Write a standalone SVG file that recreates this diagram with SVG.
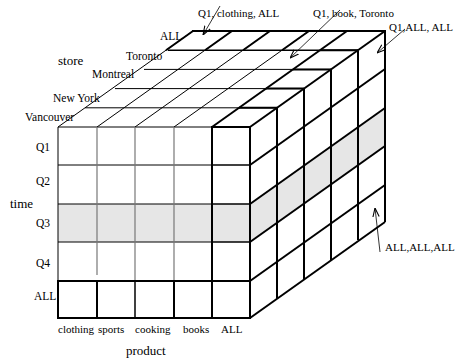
<svg xmlns="http://www.w3.org/2000/svg" width="457" height="362" viewBox="0 0 457 362">
<style>
.t{font-family:"Liberation Serif","Times New Roman",serif;fill:#000}
.s11{font-size:11px}
.s12{font-size:11.5px}
.s13{font-size:13px}
.thin{stroke:#000;stroke-width:1;fill:none}
.gray{stroke:#777;stroke-width:1.2;fill:none}
.med{stroke:#000;stroke-width:1.5;fill:none}
.thick{stroke:#000;stroke-width:2;fill:none}
.band{fill:#e6e6e6;stroke:none}
.arr{stroke:#000;stroke-width:0.8;fill:none;marker-end:url(#ah)}
</style>
<defs>
<marker id="ah" viewBox="0 0 10 10" refX="10" refY="5" markerWidth="9" markerHeight="9" markerUnits="userSpaceOnUse" orient="auto">
<path d="M0,1.5 L10,5 L0,8.5" fill="none" stroke="#000" stroke-width="1.2"/>
</marker>
</defs>
<rect width="457" height="362" fill="#fff"/>

<g id="bands">
<rect class="band" x="58" y="204" width="192" height="38"/>
<polygon class="band" points="250,204 385,108 385,146 250,242"/>
</g>

<g id="top-face">
<line class="thin" x1="58" y1="127" x2="193" y2="31"/>
<line class="thin" x1="97" y1="127" x2="232" y2="31"/>
<line class="thin" x1="135" y1="127" x2="270" y2="31"/>
<line class="thin" x1="174" y1="127" x2="309" y2="31"/>
<line class="thick" x1="166" y1="50.2" x2="193" y2="31"/>
<line class="thick" x1="205" y1="50.2" x2="232" y2="31"/>
<line class="thick" x1="243" y1="50.2" x2="270" y2="31"/>
<line class="thick" x1="282" y1="50.2" x2="309" y2="31"/>
<line class="thick" x1="212" y1="127" x2="347" y2="31"/>
<line class="thick" x1="250" y1="127" x2="385" y2="31"/>
<line class="thin" x1="85" y1="107.8" x2="277" y2="107.8"/>
<line class="thin" x1="115" y1="88.6" x2="304" y2="88.6"/>
<line class="thin" x1="144" y1="69.4" x2="331" y2="69.4"/>
<line class="med" x1="168" y1="50.2" x2="358" y2="50.2"/>
<line class="thick" x1="239" y1="107.8" x2="277" y2="107.8"/>
<line class="thick" x1="266" y1="88.6" x2="304" y2="88.6"/>
<line class="thick" x1="293" y1="69.4" x2="331" y2="69.4"/>
<line class="thick" x1="320" y1="50.2" x2="358" y2="50.2"/>
<line class="thick" x1="192" y1="31" x2="386" y2="31"/>
</g>

<g id="right-face">
<line class="thick" x1="277" y1="107.8" x2="277" y2="298.8"/>
<line class="thick" x1="304" y1="88.6" x2="304" y2="279"/>
<line class="thick" x1="331" y1="69.4" x2="331" y2="260"/>
<line class="thick" x1="358" y1="50.2" x2="358" y2="240"/>
<line class="thick" x1="385" y1="30" x2="385" y2="222"/>
<line class="thick" x1="250" y1="165" x2="385" y2="69"/>
<line class="thick" x1="250" y1="204" x2="385" y2="108"/>
<line class="thick" x1="250" y1="242" x2="385" y2="146"/>
<line class="thick" x1="250" y1="281" x2="385" y2="185"/>
<line class="thick" x1="250" y1="318" x2="385" y2="222"/>
</g>

<g id="front-face">
<line class="thin" x1="58" y1="127" x2="212" y2="127"/>
<line class="thin" x1="58" y1="165" x2="212" y2="165"/>
<line class="thin" x1="58" y1="204" x2="212" y2="204"/>
<line class="thin" x1="58" y1="242" x2="212" y2="242"/>
<line class="thin" x1="58" y1="127" x2="58" y2="281"/>
<line class="gray" x1="97" y1="127" x2="97" y2="275"/>
<line class="gray" x1="135" y1="127" x2="135" y2="281"/>
<line class="gray" x1="174" y1="127" x2="174" y2="281"/>
<line class="thick" x1="212" y1="127" x2="250" y2="127"/>
<line class="med" x1="212" y1="165" x2="250" y2="165"/>
<line class="med" x1="212" y1="204" x2="250" y2="204"/>
<line class="med" x1="212" y1="242" x2="250" y2="242"/>
<line class="thick" x1="212" y1="126" x2="212" y2="318"/>
<line class="thick" x1="250" y1="126" x2="250" y2="319"/>
<rect class="thick" x="58" y="281" width="192" height="37"/>
<line class="thick" x1="97" y1="281" x2="97" y2="318"/>
<line class="med" x1="135" y1="281" x2="135" y2="318"/>
<line class="thick" x1="174" y1="281" x2="174" y2="318"/>
</g>

<g id="labels">
<text class="t s13" x="58" y="65">store</text>
<text class="t s12" x="160" y="40">ALL</text>
<text class="t s12" x="126" y="60">Toronto</text>
<text class="t s12" x="92" y="78">Montreal</text>
<text class="t s12" x="53" y="102">New York</text>
<text class="t s12" x="25" y="121">Vancouver</text>
<text class="t s12" x="36" y="151">Q1</text>
<text class="t s12" x="36" y="185">Q2</text>
<text class="t s13" x="10" y="208">time</text>
<text class="t s12" x="36" y="227">Q3</text>
<text class="t s12" x="36" y="267">Q4</text>
<text class="t s12" x="34" y="300">ALL</text>
<text class="t s11" x="58" y="333">clothing</text>
<text class="t s11" x="98" y="333">sports</text>
<text class="t s11" x="135" y="333">cooking</text>
<text class="t s11" x="183" y="333">books</text>
<text class="t s11" x="221" y="333">ALL</text>
<text class="t s13" x="126" y="355">product</text>
<text class="t s11" x="198" y="17">Q1, clothing, ALL</text>
<text class="t s11" x="313" y="17">Q1, book, Toronto</text>
<text class="t s11" x="389" y="31">Q1,ALL, ALL</text>
<text class="t s11" x="385" y="251">ALL,ALL,ALL</text>
</g>

<g id="connectors">
<line class="arr" x1="220" y1="6" x2="203" y2="35"/>
<line class="arr" x1="340" y1="10" x2="290" y2="58"/>
<line class="arr" x1="405" y1="29" x2="377" y2="53"/>
<line class="arr" x1="380" y1="252" x2="375" y2="208"/>
</g>
</svg>
